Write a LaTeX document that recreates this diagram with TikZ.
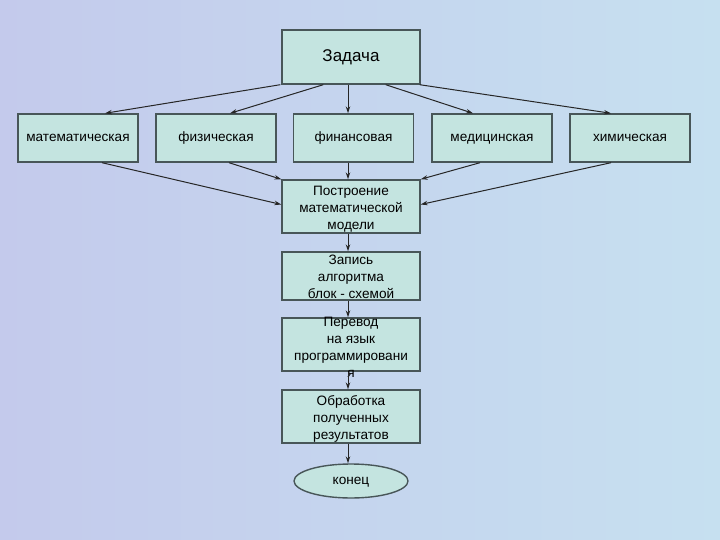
\documentclass[tikz,border=0pt]{standalone}
\usepackage{fontspec}
\setmainfont{Liberation Sans}
\usetikzlibrary{arrows.meta,shapes.geometric}
\definecolor{boxfill}{RGB}{196,228,224}
\definecolor{boxline}{RGB}{72,86,88}
\definecolor{bgleft}{RGB}{196,202,236}
\definecolor{bgright}{RGB}{198,224,240}
\begin{document}
\begin{tikzpicture}[x=1pt,y=-1pt,
    blok/.style={draw=boxline,line width=1.4pt,fill=boxfill,align=center,
      inner sep=0pt,font=\fontsize{13.6}{17}\selectfont},
    vid/.style={blok,minimum width=120pt,minimum height=48pt,text height=9.5pt,text depth=2.5pt},
    shag/.style={blok,minimum width=138pt,minimum height=53pt},
    strel/.style={-{Stealth[length=7pt,width=4.5pt]},line width=1pt,black!85}]
  \shade[left color=bgleft,right color=bgright] (0,0) rectangle (720,540);
  \useasboundingbox (0,0) rectangle (720,540);

  % zadacha
  \node[shag,minimum height=54pt,font=\fontsize{17}{20}\selectfont,text height=12pt,text depth=2pt] (zadacha) at (351,57) {Задача};

  % vidy zadach
  \node[vid] (mat) at (78,138) {математическая};
  \node[vid] (fiz) at (216,138) {физическая};
  \node[vid] (fin) at (353.5,138) {финансовая};
  \node[vid] (med) at (492,138) {медицинская};
  \node[vid] (him) at (630,138) {химическая};

  % shagi
  \node[shag] (model) at (351,206.5) {\rule{0pt}{15pt}Построение\\математической\\модели};
  \node[shag,minimum height=48pt] (algo) at (351,276) {\rule{0pt}{12pt}Запись\\алгоритма\\блок - схемой};
  \node[shag] (perevod) at (351,344.5) {};
  \node[align=center,inner sep=0pt,font=\fontsize{13.6}{17}\selectfont] (perevodtext)
    at ([yshift=-2.5pt]perevod.center) {Перевод\\на язык\\программировани\\я};
  \node[shag] (obrab) at (351,416.5) {\rule{0pt}{15pt}Обработка\\полученных\\результатов};
  \node[blok,ellipse,minimum width=114pt,minimum height=34pt,text height=9.5pt,text depth=2.5pt] (konec) at (351,481) {конец};

  % strelki
  \draw[strel] ([xshift=-1pt]zadacha.south west) -- ([xshift=27pt]mat.north);
  \draw[strel] ([xshift=42pt]zadacha.south west) -- ([xshift=14pt]fiz.north);
  \draw[strel] ([xshift=-3pt]zadacha.south) -- ([xshift=-3pt]zadacha.south |- fin.north);
  \draw[strel] ([xshift=-35pt]zadacha.south east) -- ([xshift=-19pt]med.north);
  \draw[strel] ([xshift=-1pt]zadacha.south east) -- ([xshift=-19pt]him.north);

  \draw[strel] ([xshift=24pt]mat.south) -- ([yshift=2pt]model.west);
  \draw[strel] ([xshift=13pt]fiz.south) -- (model.north west);
  \draw[strel] ([xshift=-3pt]model.north |- fin.south) -- ([xshift=-3pt]model.north);
  \draw[strel] ([xshift=-12pt]med.south) -- (model.north east);
  \draw[strel] ([xshift=-19pt]him.south) -- ([yshift=2pt]model.east);

  \draw[strel] ([xshift=-3pt]model.south) -- ([xshift=-3pt]algo.north);
  \draw[strel] ([xshift=-3pt]algo.south) -- ([xshift=-3pt]perevod.north);
  \draw[strel] ([xshift=-3pt]perevod.south) -- ([xshift=-3pt]obrab.north);
  \draw[strel] ([xshift=-3pt]obrab.south) -- ([xshift=-3pt]obrab.south |- konec.north);
\end{tikzpicture}
\end{document}
